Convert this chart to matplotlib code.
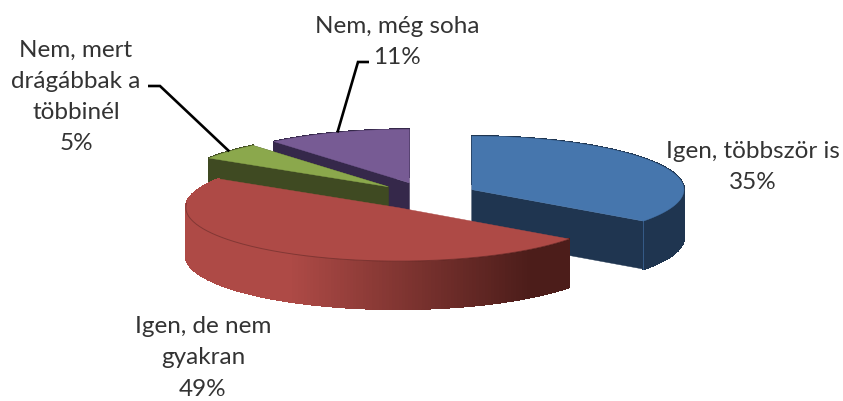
import numpy as np
import matplotlib.pyplot as plt
from matplotlib.colors import to_rgb

# Data
categories = ["Igen, többször is", "Igen, de nem\ngyakran", "Nem, mert\ndrágábbak a\ntöbbinél", "Nem, még soha"]
values = [35, 49, 5, 11]

# Colours (top surface, side wall)
top_colors = ["#4676AD", "#AE4A46", "#8BA84C", "#775B94"]
wall_colors = ["#1F3550", "#AE4A46", "#3F4A22", "#35284A"]
red_dark = "#4C1D1A"

# Layout in pixels of the 843x401 picture
CENTER = (426.5, 196.0)
RX, RY = 212.0, 53.5
DEPTH = 48.0
EXPLODE_X, EXPLODE_Y = 51.0, 14.0
label_pos = [(753, 167), (203, 358), (76, 97), (397, 42)]
# elbow of the leader lines: slice index, text end, knee
leaders = [(2, (148, 86), (160, 86)), (3, (369, 62), (358, 62))]
draw_order = [3, 2, 0, 1]

plt.rcParams["font.family"] = ["Lato", "DejaVu Sans"]

fig = plt.figure(figsize=(8.43, 4.01), dpi=100)
ax = fig.add_axes([0, 0, 1, 1])
ax.set_xlim(0, 843)
ax.set_ylim(401, 0)
ax.axis("off")

# Angles clockwise from the top of the pie
edges = np.radians(np.cumsum([0] + values) * 3.6)


def rim(apex, theta):
    return apex[0] + RX * np.sin(theta), apex[1] - RY * np.cos(theta)


def slice_apex(i):
    mid = (edges[i] + edges[i + 1]) / 2
    return CENTER[0] + EXPLODE_X * np.sin(mid), CENTER[1] - EXPLODE_Y * np.cos(mid)


for i in draw_order:
    apex = slice_apex(i)
    theta = np.linspace(edges[i], edges[i + 1], 200)
    x, y = rim(apex, theta)

    # outer wall, cut in small pieces so the red one can darken to the right
    for j in range(len(theta) - 1):
        c = wall_colors[i]
        if i == 1:
            t = np.clip((x[j] - 290) / (530 - 290), 0, 1)
            c = tuple((1 - t) * a + t * b for a, b in zip(to_rgb(wall_colors[1]), to_rgb(red_dark)))
        ax.fill([x[j], x[j + 1], x[j + 1], x[j]],
                [y[j], y[j + 1], y[j + 1] + DEPTH, y[j] + DEPTH],
                color=c, lw=0.8, antialiased=False)

    # walls along the two cut edges
    if i != 1:
        for th in (edges[i], edges[i + 1]):
            ex, ey = rim(apex, th)
            ax.fill([apex[0], ex, ex, apex[0]],
                    [apex[1], ey, ey + DEPTH, apex[1] + DEPTH],
                    color=wall_colors[i], lw=0.3)

    # top surface
    ax.fill(np.r_[apex[0], x], np.r_[apex[1], y], color=top_colors[i], lw=0.3)

    # thin line between top and outer wall on the red slice, light corner on the blue one
    if i == 1:
        front = np.cos(theta) < 0.1
        ax.plot(x[front], y[front], color="black", alpha=0.25, lw=0.7)
    if i == 0:
        ex, ey = rim(apex, edges[1])
        ax.plot([ex, ex], [ey, ey + DEPTH], color="#4676AD", alpha=0.6, lw=0.7)

# Leader lines
for i, start, knee in leaders:
    mid = (edges[i] + edges[i + 1]) / 2
    end = rim(slice_apex(i), mid)
    ax.plot([start[0], knee[0], end[0]], [start[1], knee[1], end[1]],
            color="black", lw=1.9, solid_joinstyle="miter", solid_capstyle="butt")

# Labels
for name, value, (lx, ly) in zip(categories, values, label_pos):
    ax.text(lx, ly, "{}\n{}%".format(name, value), ha="center", va="center",
            fontsize=17.5, color="#333333", linespacing=1.6)

fig.savefig("out.png", dpi=100)
